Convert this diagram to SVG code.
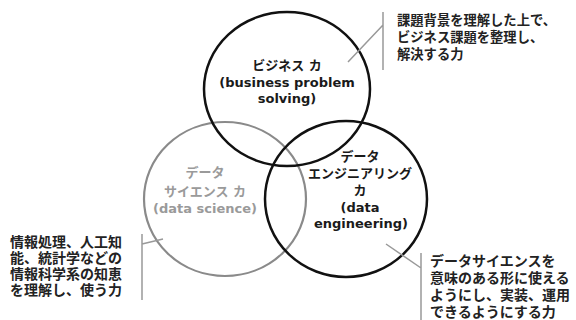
<svg xmlns="http://www.w3.org/2000/svg" width="576" height="320" viewBox="0 0 576 320">
  <style>
    .ring-dark { fill: none; stroke: #111; stroke-width: 2.5; }
    .ring-light { fill: none; stroke: #8a8a8a; stroke-width: 2.2; }
    .label { font-family: "DejaVu Sans", "Noto Sans CJK JP", sans-serif; font-size: 13px; font-weight: bold; text-anchor: middle; }
    .label-dark { fill: #1a1a1a; }
    .label-light { fill: #9a9a9a; }
    .note { font-family: "Noto Sans CJK JP", sans-serif; font-weight: bold; fill: #222; }
    .leader { fill: none; stroke: #999; stroke-width: 1.5; }
  </style>
  <rect width="576" height="320" fill="#fff"/>

  <!-- Venn circles -->
  <g id="data-science">
    <ellipse class="ring-light" cx="225" cy="199" rx="81" ry="77"/>
    <text class="label label-light" x="205" y="177">データ</text>
    <text class="label label-light" x="205" y="196">サイエンス カ</text>
    <text class="label label-light" x="205" y="213">(data science)</text>
  </g>

  <g id="data-engineering">
    <ellipse class="ring-dark" cx="346" cy="199" rx="81" ry="78"/>
    <text class="label label-dark" x="360" y="161">データ</text>
    <text class="label label-dark" x="360" y="178">エンジニアリング</text>
    <text class="label label-dark" x="360" y="195">カ</text>
    <text class="label label-dark" x="360" y="212">(data</text>
    <text class="label label-dark" x="361" y="228">engineering)</text>
  </g>

  <g id="business">
    <ellipse class="ring-dark" cx="287" cy="89" rx="83" ry="77"/>
    <text class="label label-dark" x="287" y="70">ビジネス カ</text>
    <text class="label label-dark" x="287" y="87">(business problem</text>
    <text class="label label-dark" x="287" y="103">solving)</text>
  </g>

  <!-- Callout brackets and leaders -->
  <g id="connectors">
    <path class="leader" d="M383 12 V70 M383 25 L348 62"/>
    <path class="leader" d="M142 234 V300 M142 244 L163 239"/>
    <path class="leader" d="M421 253 V320 M421 268 L386 244"/>
  </g>

  <!-- Callout texts -->
  <g id="note-business">
    <text class="note" font-size="13.3" x="397" y="25">課題背景を理解した上で、</text>
    <text class="note" font-size="13.3" x="397" y="42">ビジネス課題を整理し、</text>
    <text class="note" font-size="13.3" x="397" y="59">解決する力</text>
  </g>
  <g id="note-science">
    <text class="note" font-size="14" x="10" y="247">情報処理、人工知</text>
    <text class="note" font-size="14" x="10" y="263">能、統計学などの</text>
    <text class="note" font-size="14" x="10" y="279">情報科学系の知恵</text>
    <text class="note" font-size="14" x="10" y="295">を理解し、使う力</text>
  </g>
  <g id="note-engineering">
    <text class="note" font-size="14" x="430" y="266">データサイエンスを</text>
    <text class="note" font-size="14" x="430" y="283">意味のある形に使える</text>
    <text class="note" font-size="14" x="430" y="300">ようにし、実装、運用</text>
    <text class="note" font-size="14" x="430" y="317">できるようにする力</text>
  </g>
</svg>
